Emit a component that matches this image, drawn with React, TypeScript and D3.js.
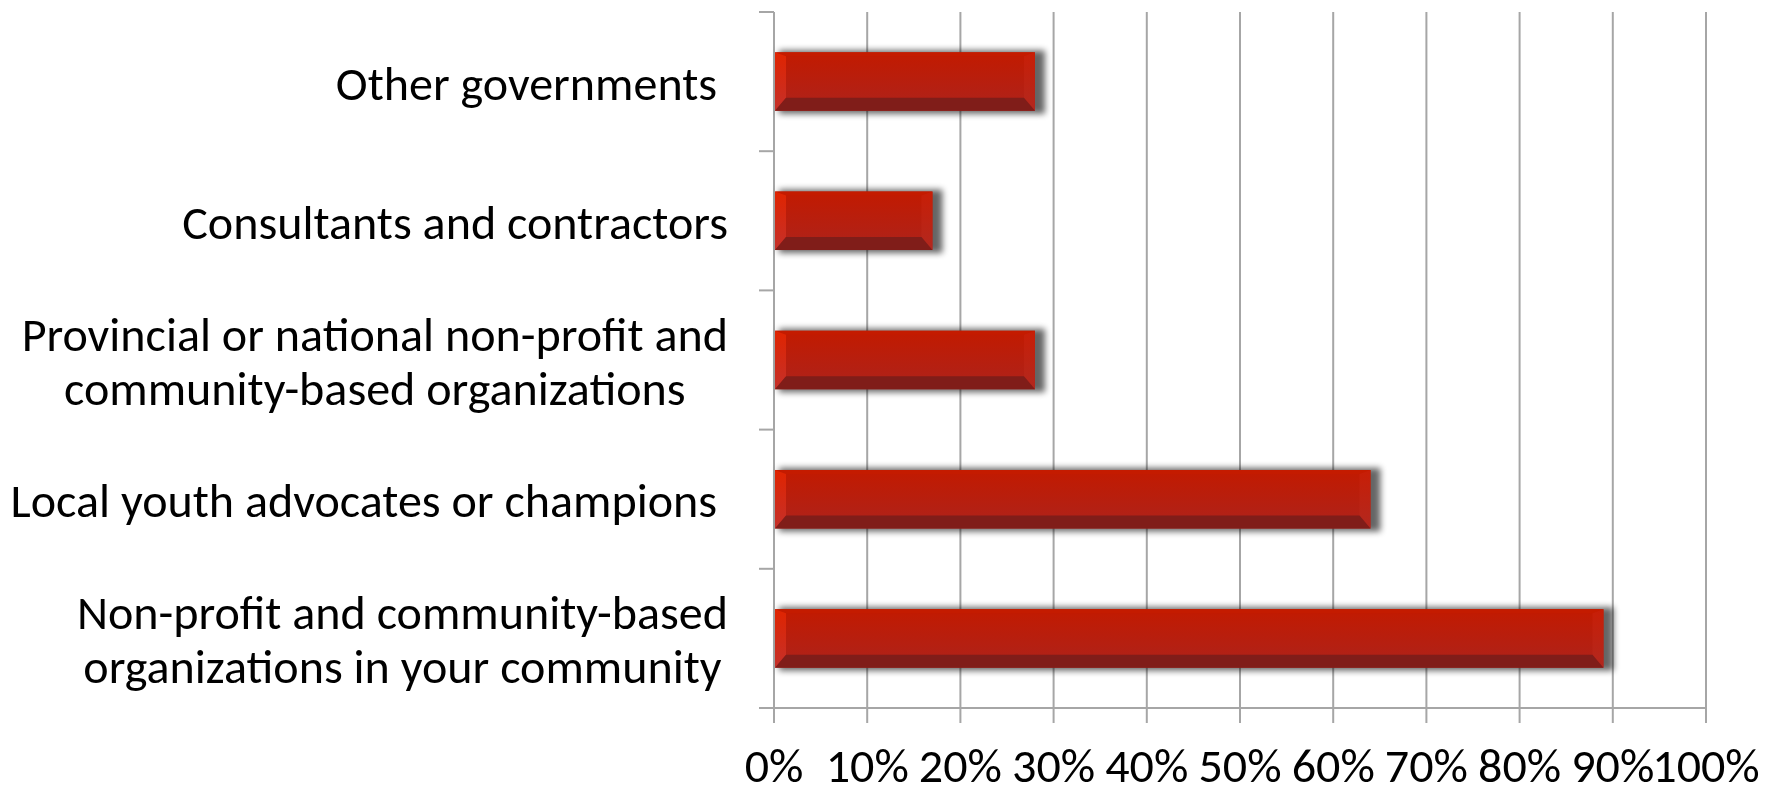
import React, { useEffect, useRef } from 'react';
import * as d3 from 'd3';

// chart data
const categories: string[][] = [
  ['Other governments '],
  ['Consultants and contractors'],
  ['Provincial or national non-profit and', 'community-based organizations'],
  ['Local youth advocates or champions '],
  ['Non-profit and community-based', 'organizations in your community'],
];
const values = [0.28, 0.17, 0.28, 0.64, 0.89];
const tickValues = [0, 0.1, 0.2, 0.3, 0.4, 0.5, 0.6, 0.7, 0.8, 0.9, 1];
const tickLabels = ['0%', '10%', '20%', '30%', '40%', '50%', '60%', '70%', '80%', '90%', '100%'];

const W = 1777;
const H = 790;
const FONT = 'Calibri, Carlito, Lato, sans-serif';
const GRID = '#a6a6a6';

export default function App() {
  const ref = useRef<SVGSVGElement>(null);

  useEffect(() => {
    const svg = d3.select(ref.current);
    svg.selectAll('*').remove();

    const keys = categories.map(c => c.join('|'));
    const x = d3.scaleLinear().domain([0, 1]).range([774, 1706]);
    const y = d3.scaleBand<string>().domain(keys).range([12, 708])
      .paddingInner(0.58).paddingOuter(0.29);
    const bw = y.bandwidth();
    const gap = (y.step() - bw) / 2;

    // fit the label font to the reference width of the widest single line
    const probe = svg.append('text').attr('font-family', FONT).attr('font-size', 100)
      .text('Consultants and contractors');
    const pw = (probe.node() as SVGTextElement).getComputedTextLength();
    probe.remove();
    const fs = Math.min(50, (100 * 546) / pw);

    const defs = svg.append('defs');
    const blur = defs.append('filter').attr('id', 'shadow')
      .attr('x', '-10%').attr('y', '-50%').attr('width', '120%').attr('height', '200%');
    blur.append('feGaussianBlur').attr('stdDeviation', 3);

    const grad = (id: string, stops: [number, string][]) => {
      const g = defs.append('linearGradient').attr('id', id)
        .attr('x1', 0).attr('y1', 0).attr('x2', 0).attr('y2', 1);
      stops.forEach(([o, c]) => g.append('stop').attr('offset', o).attr('stop-color', c));
    };
    grad('face', [[0, '#c21a00'], [1, '#ad231c']]);
    grad('leftBevel', [[0, '#e02400'], [1, '#c4302a']]);
    grad('rightBevel', [[0, '#c81e06'], [1, '#b2281f']]);

    // grid + bottom axis ticks
    svg.append('g').selectAll('line').data(tickValues).join('line')
      .attr('x1', d => x(d)).attr('x2', d => x(d))
      .attr('y1', 12).attr('y2', 723)
      .attr('stroke', GRID).attr('stroke-width', 2);

    svg.append('line').attr('x1', 759).attr('x2', x(1))
      .attr('y1', 708).attr('y2', 708).attr('stroke', GRID).attr('stroke-width', 2);

    // category ticks on the left axis
    const bounds = keys.map(k => (y(k) as number) - gap).concat([708]);
    svg.append('g').selectAll('line').data(bounds).join('line')
      .attr('x1', 759).attr('x2', x(0))
      .attr('y1', d => d).attr('y2', d => d)
      .attr('stroke', GRID).attr('stroke-width', 2);

    // bars
    const bars = svg.append('g').selectAll('g').data(values).join('g');
    bars.each(function (v, i) {
      const g = d3.select(this);
      const x0 = x(0) + 1;
      const x1 = x(v);
      const y0 = y(keys[i]) as number;
      const y1 = y0 + bw;
      const lb = 11;
      const bb = 13;
      const tb = 4;

      g.append('rect').attr('x', x0 + 4).attr('y', y0 - 2)
        .attr('width', x1 - x0 + 6).attr('height', bw + 5)
        .attr('fill', '#000').attr('opacity', 0.6).attr('filter', 'url(#shadow)');

      g.append('rect').attr('x', x0).attr('y', y0)
        .attr('width', x1 - x0).attr('height', bw).attr('fill', 'url(#face)');

      const poly = (pts: [number, number][], fill: string) =>
        g.append('polygon').attr('points', pts.map(p => p.join(',')).join(' ')).attr('fill', fill);

      poly([[x0, y0], [x1, y0], [x1 - lb, y0 + tb], [x0 + lb, y0 + tb]], '#c41b00');
      poly([[x0, y0], [x0 + lb, y0 + tb], [x0 + lb, y1 - bb], [x0, y1]], 'url(#leftBevel)');
      poly([[x1, y0], [x1, y1], [x1 - lb, y1 - bb], [x1 - lb, y0 + tb]], 'url(#rightBevel)');
      poly([[x0, y1], [x0 + lb, y1 - bb], [x1 - lb, y1 - bb], [x1, y1]], '#801d19');
    });

    // category labels
    const lineH = 54;
    const labels = svg.append('g').attr('font-family', FONT).attr('font-size', fs).attr('fill', '#000');
    categories.forEach((lines, i) => {
      const cy = (y(keys[i]) as number) + bw / 2;
      const t = labels.append('text').style('white-space', 'pre');
      const spans = lines.map((ln, j) =>
        t.append('tspan').attr('y', cy + 18 + (j - (lines.length - 1) / 2) * lineH).text(ln));
      const widths = spans.map(s => (s.node() as SVGTSpanElement).getComputedTextLength());
      const maxW = d3.max(widths) as number;
      const center = 728 - maxW / 2;
      spans.forEach((s, j) => s.attr('x', center - widths[j] / 2));
    });

    // value axis labels
    svg.append('g').attr('font-family', FONT).attr('font-size', fs).attr('text-anchor', 'middle')
      .selectAll('text').data(tickValues).join('text')
      .attr('x', d => x(d)).attr('y', 782)
      .text((d, i) => tickLabels[i]);
  }, []);

  return (
    <svg ref={ref} width={W} height={H}
      style={{ position: 'absolute', left: 0, top: 0, background: '#fff' }} />
  );
}
